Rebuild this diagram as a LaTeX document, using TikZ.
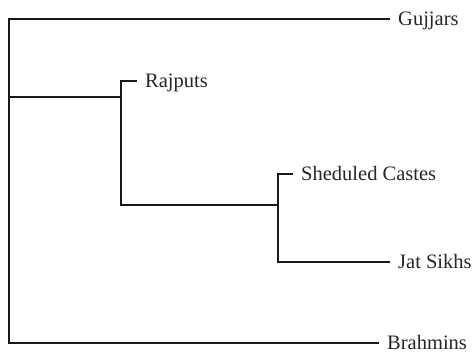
\documentclass[tikz,border=0pt]{standalone}
\usepackage{fontspec}
\setmainfont{Liberation Serif}
\begin{document}
\begin{tikzpicture}[x=1pt,y=-1pt,
  lab/.style={anchor=west,inner xsep=8pt,inner ysep=0pt,text height=13pt,text depth=0pt,
    font=\fontsize{20.5}{24}\selectfont,text=black!85},
  br/.style={line width=1.6pt,black!90}]
\useasboundingbox (0,0) rectangle (475,354);
\coordinate (top) at (9,19);
\coordinate (root) at (9,97);
\coordinate (bot) at (9,343);
\coordinate (rm) at (121,97);
\coordinate (rtop) at (121,81);
\coordinate (rj) at (121,205);
\coordinate (stop) at (278,174);
\coordinate (sj) at (278,205);
\coordinate (sbot) at (278,262);
\node[lab] (gu) at (390,19) {Gujjars};
\node[lab] (ra) at (137,81) {Rajputs};
\node[lab] (sc) at (293,174) {Sheduled Castes};
\node[lab] (js) at (390,262) {Jat Sikhs};
\node[lab] (bm) at (379,343) {Brahmins};
\draw[br] (gu.west) -- (top) -- (bot) -- (bm.west);
\draw[br] (root) -- (rm);
\draw[br] (ra.west) -- (rtop) -- (rj) -- (sj);
\draw[br] (sc.west) -- (stop) -- (sbot) -- (js.west);
\end{tikzpicture}
\end{document}
